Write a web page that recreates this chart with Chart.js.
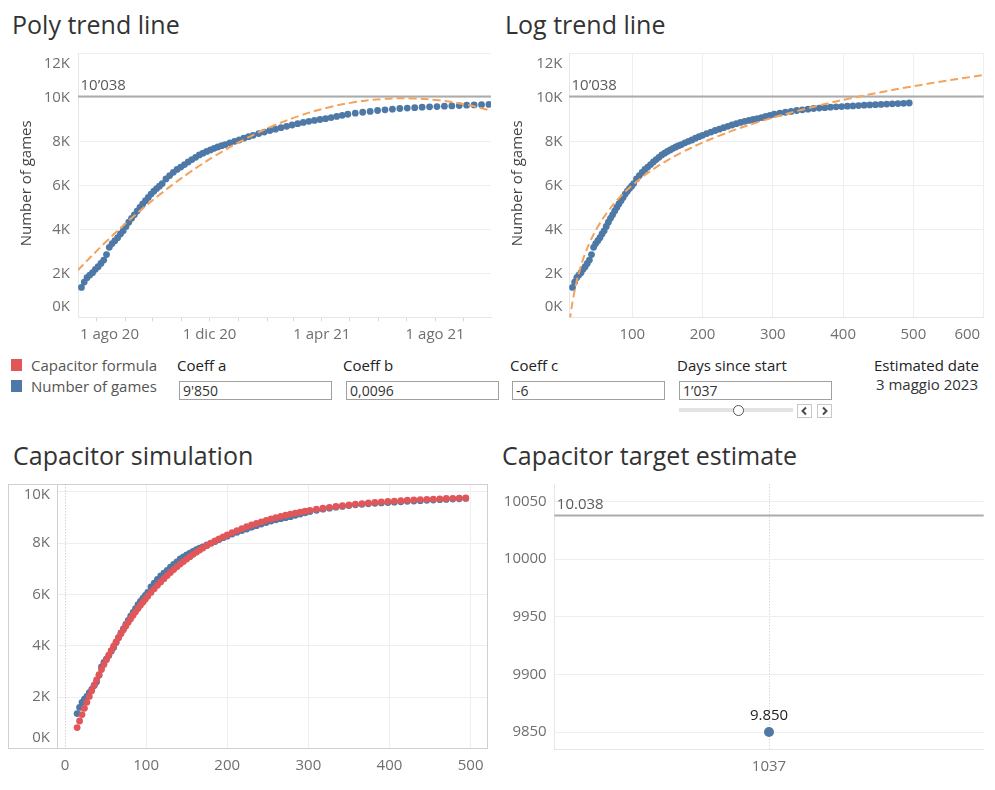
<!DOCTYPE html>
<html><head><meta charset="utf-8">
<script src="https://cdn.jsdelivr.net/npm/chart.js@4"></script>
<style>
body{margin:0;background:#fff;width:995px;height:790px;position:relative;overflow:hidden;font-family:"Open Sans",sans-serif;}
.abs{position:absolute;white-space:nowrap;}
.title{font-size:25px;line-height:34px;color:#333;}
canvas{position:absolute;}
.lg{font-size:15px;line-height:20px;color:#555;}
.lbl{font-size:15px;line-height:20px;color:#222;font-weight:400;}
.box{position:absolute;border:1px solid #a0a0a0;box-sizing:border-box;height:19px;width:153px;font-size:14px;line-height:17px;padding-left:3px;color:#333;white-space:nowrap;}
.sw{position:absolute;width:11px;height:12px;}
.btn{position:absolute;top:404px;width:15px;height:14px;border:1px solid #c8c8c8;box-sizing:border-box;background:#fff;}
</style></head><body>
<div class="abs title" style="left:12px;top:7px">Poly trend line</div>
<div class="abs title" style="left:505px;top:7px">Log trend line</div>
<div class="abs title" style="left:13px;top:438px">Capacitor simulation</div>
<div class="abs title" style="left:502px;top:438px">Capacitor target estimate</div>

<div class="sw" style="left:11px;top:359px;background:#e15759"></div>
<div class="sw" style="left:11px;top:380px;background:#4e79a7"></div>
<div class="abs lg" style="left:31px;top:355px">Capacitor formula</div>
<div class="abs lg" style="left:31px;top:376px">Number of games</div>

<div class="abs lbl" style="left:177px;top:355px">Coeff a</div>
<div class="abs lbl" style="left:343px;top:355px">Coeff b</div>
<div class="abs lbl" style="left:510px;top:355px">Coeff c</div>
<div class="abs lbl" style="left:677px;top:355px">Days since start</div>
<div class="abs lbl" style="right:16px;top:355px">Estimated date</div>
<div class="abs" style="right:17px;top:374px;font-size:15px;line-height:20px;color:#333">3 maggio 2023</div>

<div class="box" style="left:179px;top:381px">9'850</div>
<div class="box" style="left:346px;top:381px">0,0096</div>
<div class="box" style="left:512px;top:381px">-6</div>
<div class="box" style="left:679px;top:381px">1’037</div>

<div class="abs" style="left:679px;top:408px;width:114px;height:4px;background:#e3e3e3"></div>
<div class="abs" style="left:733px;top:405px;width:11px;height:11px;border:1px solid #555;border-radius:50%;background:#fff;box-sizing:border-box"></div>
<div class="btn" style="left:797px"><svg width="13" height="12" style="position:absolute;left:0;top:0"><polyline points="8,2.5 4.5,6 8,9.5" fill="none" stroke="#4a4a4a" stroke-width="2"/></svg></div>
<div class="btn" style="left:817px"><svg width="13" height="12" style="position:absolute;left:0;top:0"><polyline points="5,2.5 8.5,6 5,9.5" fill="none" stroke="#4a4a4a" stroke-width="2"/></svg></div>

<canvas id="c1" width="495" height="305" style="left:0;top:45px"></canvas>
<canvas id="c2" width="500" height="305" style="left:495px;top:45px"></canvas>
<canvas id="c3" width="495" height="320" style="left:0;top:470px"></canvas>
<canvas id="c4" width="500" height="320" style="left:495px;top:470px"></canvas>

<script>
// ---------- data ----------
const startDate = '2020-07-01';
const days = [15,18,21,24,27,30,33,36,39,42,45,48,51,54,57,60,63,66,69,72,75,78,81,84,87,90,93,96,99,102,
  106,110,114,118,122,126,130,134,138,142,146,150,154,158,162,166,170,175,180,185,190,195,200,
  206,212,218,224,230,236,242,248,254,260,266,272,278,284,290,296,302,
  310,318,326,334,342,350,358,366,374,382,390,398,406,414,422,430,438,446,454,462,470,478,486,494];
const games = [1360,1600,1800,1920,2030,2180,2300,2450,2600,2850,3180,3350,3480,3620,3790,3930,4130,4320,4500,4660,4830,4990,5150,5300,5450,5600,5730,5850,5960,6080,
  6290,6440,6590,6720,6830,6940,7060,7170,7270,7380,7460,7540,7610,7680,7740,7800,7850,7930,8000,8060,8140,8210,8270,
  8350,8420,8490,8550,8620,8680,8740,8800,8860,8910,8950,8990,9030,9080,9130,9180,9230,
  9280,9320,9360,9400,9430,9460,9490,9510,9530,9550,9565,9580,9595,9610,9625,9640,9652,9665,9677,9690,9702,9715,9728,9740];
const capacitor = [816,1072,1321,1563,1799,2027,2249,2465,2674,2878,3076,3268,3455,3637,3813,3984,4151,4313,4470,4623,4771,4915,5055,5192,5324,5452,5577,5698,5816,5931,
  6079,6220,6357,6489,6615,6737,6855,6968,7076,7181,7281,7378,7471,7561,7647,7730,7810,7906,7996,8083,8166,8245,8320,
  8406,8487,8563,8636,8704,8768,8829,8886,8939,8990,9038,9084,9127,9167,9206,9241,9276,
  9318,9357,9394,9427,9459,9488,9514,9539,9562,9583,9603,9621,9638,9654,9669,9682,9694,9706,9716,9726,9736,9744,9752,9759];
const polyTrendDays = [11,40,70,100,130,160,190,220,250,280,310,340,370,400,430,456];
const polyTrendValues = [2137,3375,4544,5599,6540,7366,8078,8675,9159,9528,9783,9924,9950,9862,9660,9393];
const logTrendDays = [11,13,16,20,25,32,40,50,65,80,100,130,170,220,280,350,430,520,600];
const logTrendValues = [-176,292,873,1497,2122,2812,3437,4061,4795,5376,6000,6734,7485,8206,8881,9505,10082,10613,11013];
const targetValue = 10038;
const estimateDay = [1037];
const estimateValue = [9850];

// ---------- tick labels ----------
const monthTicks = ['2020-08-01','2020-09-01','2020-10-01','2020-11-01','2020-12-01','2021-01-01','2021-02-01','2021-03-01','2021-04-01','2021-05-01','2021-06-01','2021-07-01','2021-08-01','2021-09-01'];
const monthTickLabels = ['1 ago 20','','','','1 dic 20','','','','1 apr 21','','','','1 ago 21',''];
const kTicks = [0,2000,4000,6000,8000,10000,12000];
const kTickLabels = ['0K','2K','4K','6K','8K','10K','12K'];
const dayTicks = [100,200,300,400,500,600];
const dayTickLabels = ['100','200','300','400','500','600'];
const simXTicks = [0,100,200,300,400,500];
const simXTickLabels = ['0','100','200','300','400','500'];
const simYTicks = [0,2000,4000,6000,8000,10000];
const simYTickLabels = ['0K','2K','4K','6K','8K','10K'];
const estYTicks = [9850,9900,9950,10000,10050];
const estYTickLabels = ['9850','9900','9950','10000','10050'];
const estXTickLabels = ['1037'];

// ---------- helpers ----------
const BLUE = '#4e79a7', RED = '#e15759', ORANGE = '#f3a35d';
const FONT = '"Open Sans", sans-serif';
const dayOf = s => (Date.parse(s) - Date.parse(startDate)) / 86400000;
const monthTickDays = monthTicks.map(dayOf);
const fmt = (v, sep) => String(v).replace(/\B(?=(\d{3})+(?!\d))/g, sep);
const pts = (xs, ys) => xs.map((x, i) => ({x, y: ys[i]}));

const tab = {
  id: 'tab',
  beforeDatasetsDraw(chart, args, o) {
    const ctx = chart.ctx, a = chart.chartArea;
    ctx.save();
    if (o.frame) {
      ctx.strokeStyle = '#d0d0d0'; ctx.lineWidth = 1;
      const l = Math.round(a.left - o.frame) + 0.5, t = Math.round(a.top) + 0.5, r = Math.round(a.right) - 0.5, b = Math.round(a.bottom) - 0.5;
      ctx.strokeRect(l, t, r - l, b - t);
      ctx.beginPath(); ctx.moveTo(Math.round(a.left) + 0.5, t); ctx.lineTo(Math.round(a.left) + 0.5, b); ctx.stroke();
    }
    if (o.zeroLine) {
      const x = Math.round(chart.scales.x.getPixelForValue(0)) + 0.5;
      ctx.setLineDash([1, 2]); ctx.strokeStyle = '#bcbcbc'; ctx.lineWidth = 1;
      ctx.beginPath(); ctx.moveTo(x, a.top); ctx.lineTo(x, a.bottom); ctx.stroke(); ctx.setLineDash([]);
    }
    if (o.ref) {
      const y = chart.scales.y.getPixelForValue(o.ref.value);
      ctx.strokeStyle = '#ababab'; ctx.lineWidth = 2;
      ctx.beginPath(); ctx.moveTo(a.left, y); ctx.lineTo(a.right, y); ctx.stroke();
      ctx.font = '15px ' + FONT; ctx.fillStyle = '#5a5a5a'; ctx.textAlign = 'left'; ctx.textBaseline = 'alphabetic';
      ctx.fillText(o.ref.label, a.left + 2.5, y - 6.5);
    }
    ctx.restore();
  },
  afterDraw(chart, args, o) {
    const ctx = chart.ctx, a = chart.chartArea;
    ctx.save();
    ctx.font = '15px ' + FONT; ctx.fillStyle = '#6f6f6f';
    const ys = chart.scales.y, xs = chart.scales.x;
    ctx.textAlign = 'right'; ctx.textBaseline = 'middle';
    ys.ticks.forEach((t, i) => {
      let p = ys.getPixelForValue(t.value);
      p = Math.min(Math.max(p, a.top + 10.3), a.bottom - 10.6);
      ctx.fillText(o.yLabels[i], a.left - o.yPad, p);
    });
    ctx.textAlign = 'center';
    xs.ticks.forEach((t, i) => {
      const s = o.xLabels[i]; if (!s) return;
      const w = ctx.measureText(s).width;
      let p = xs.getPixelForValue(t.value);
      p = Math.min(Math.max(p, a.left + 2 + w / 2), a.right - 3.5 - w / 2);
      ctx.fillText(s, p, a.bottom + 17);
    });
    if (o.yTitle) {
      ctx.fillStyle = '#444';
      ctx.translate(a.left - 51, (a.top + a.bottom) / 2 - 2);
      ctx.rotate(-Math.PI / 2);
      ctx.fillText(o.yTitle, 0, 0);
      ctx.setTransform(1, 0, 0, 1, 0, 0);
    }
    if (o.pointLabel) {
      const el = chart.getDatasetMeta(0).data[0];
      ctx.fillStyle = '#222'; ctx.textAlign = 'center'; ctx.textBaseline = 'alphabetic';
      ctx.fillText(o.pointLabel, el.x, el.y - 12);
    }
    ctx.restore();
  }
};

function axis(min, max, ticks, extra) {
  return Object.assign({
    type: 'linear', min, max,
    afterBuildTicks: s => { s.ticks = ticks.map(v => ({value: v})); },
    ticks: {display: false},
    grid: {color: '#eeeeee', drawTicks: false},
    border: {display: true, color: '#e6e6e6'}
  }, extra || {});
}

function make(id, datasets, scales, pad, tabOpts) {
  return new Chart(document.getElementById(id), {
    type: 'scatter',
    data: {datasets},
    options: {
      responsive: false, animation: false, devicePixelRatio: 1, events: [],
      layout: {padding: pad},
      scales,
      plugins: {legend: {display: false}, tooltip: {enabled: false}, tab: tabOpts}
    },
    plugins: [tab]
  });
}

const dots = (data, color, r) => ({data, backgroundColor: color, borderColor: color, borderWidth: 0, pointRadius: r || 3.4, clip: 0});
const trend = data => ({data, showLine: true, borderColor: ORANGE, borderWidth: 2, borderDash: [8, 4], pointRadius: 0, tension: 0.4, clip: 0});

// Chart 1: Poly trend line
make('c1',
  [trend(pts(polyTrendDays, polyTrendValues)), dots(pts(days, games), BLUE)],
  {
    x: axis(11.3, 456.2, monthTickDays, {grid: {drawOnChartArea: false, drawTicks: true, tickLength: 4, color: '#d8d8d8'}}),
    y: axis(0, 12000, kTicks, {grid: {color: '#efefef', drawTicks: false}})
  },
  {left: 78, right: 3, top: 8.3, bottom: 28.7},
  {xLabels: monthTickLabels, yLabels: kTickLabels, yPad: 8, yTitle: 'Number of games', ref: {value: targetValue, label: fmt(targetValue, '’')}}
);

// Chart 2: Log trend line
make('c2',
  [trend(pts(logTrendDays, logTrendValues)), dots(pts(days, games), BLUE)],
  {
    x: axis(10, 600, dayTicks),
    y: axis(0, 12000, kTicks)
  },
  {left: 74, right: 11.3, top: 8.3, bottom: 32.7},
  {xLabels: dayTickLabels, yLabels: kTickLabels, yPad: 6.5, yTitle: 'Number of games', ref: {value: targetValue, label: fmt(targetValue, '’')}}
);

// Chart 3: Capacitor simulation
make('c3',
  [dots(pts(days, capacitor), RED), dots(pts(days, games), BLUE)],
  {
    x: axis(-10.2, 521.8, simXTicks, {grid: {drawTicks: false, color: c => (c.tick && c.tick.value === 0) ? 'rgba(0,0,0,0)' : '#eeeeee'}, border: {display: false}}),
    y: axis(0, 10290, simYTicks, {border: {display: false}})
  },
  {left: 56.7, right: 6.7, top: 14.3, bottom: 41.5},
  {xLabels: simXTickLabels, yLabels: simYTickLabels, yPad: 6.7, frame: 48.7, zeroLine: true}
);

// Chart 4: Capacitor target estimate
make('c4',
  [dots(pts(estimateDay, estimateValue), BLUE, 5)],
  {
    x: axis(estimateDay[0] - 1, estimateDay[0] + 1, estimateDay, {grid: {drawTicks: false, color: '#c4c4c4'}, border: {display: true, color: '#e6e6e6', dash: [1, 2]}}),
    y: axis(9835, 10065, estYTicks)
  },
  {left: 59.3, right: 11.3, top: 14.3, bottom: 40.7},
  {xLabels: estXTickLabels, yLabels: estYTickLabels, yPad: 7.6, ref: {value: targetValue, label: fmt(targetValue, '.')}, pointLabel: fmt(estimateValue[0], '.')}
);
</script>
</body></html>
